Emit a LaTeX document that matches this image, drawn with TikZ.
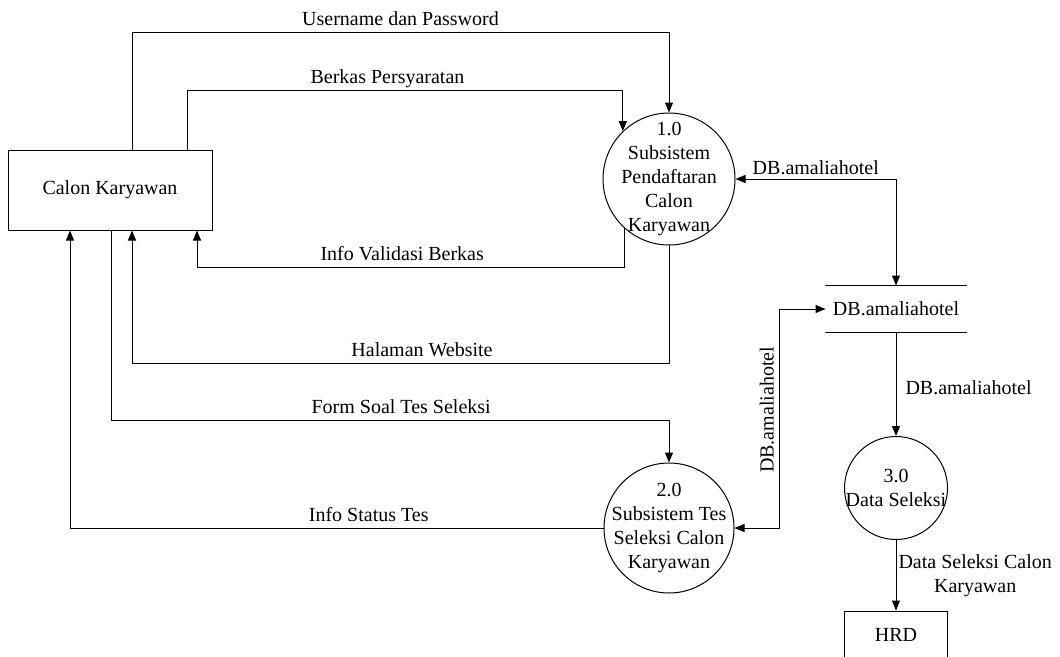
\documentclass[tikz,border=0pt]{standalone}
\usepackage{fontspec}
\setmainfont{Liberation Serif}
\newfontfamily\dfdfont{Liberation Serif}
\usetikzlibrary{arrows.meta}
\begin{document}
\begin{tikzpicture}[>={Triangle[length=10pt,width=8pt]},line join=round,line cap=round,x=1pt,y=-1pt,line width=1pt,
	font=\dfdfont\fontsize{20}{24}\selectfont,
	ent/.style={draw,inner sep=0pt},
	proc/.style={draw,circle,inner sep=0pt},
	ptxt/.style={align=center,inner sep=0pt},
	lbl/.style={inner sep=0pt,anchor=base,yshift=7pt}]
	\useasboundingbox (0,0) rectangle (1060,656);
	\node[ent,minimum width=204pt,minimum height=80pt] (ck) at (110,190) {Calon Karyawan};
	\node[proc,minimum size=132pt] (p1) at (669,179) {};
	\node[ptxt] (p1t) at (p1) {1.0\\Subsistem\\Pendaftaran\\Calon\\Karyawan};
	\node[proc,minimum size=130pt] (p2) at (669,528) {};
	\node[ptxt] (p2t) at (p2) {2.0\\Subsistem Tes\\Seleksi Calon\\Karyawan};
	\node[proc,minimum size=103pt] (p3) at (896,488) {};
	\node[ptxt] (p3t) at (p3) {3.0\\Data Seleksi};
	\node[minimum width=140pt,minimum height=46pt,inner sep=0pt] (ds) at (896,309) {DB.amaliahotel};
	\draw (ds.north west) -- (ds.north east) (ds.south west) -- (ds.south east);
	\node[ent,minimum width=103pt,minimum height=48pt] (hrd) at (896,635) {HRD};
	\draw[->] ([xshift=22pt]ck.north) -- ++(0,-117) -| node[lbl,pos=.25]{Username dan Password} (p1.north);
	\draw[->] ([xshift=77pt]ck.north) -- ++(0,-59) -| node[lbl,pos=.23]{Berkas Persyaratan} (p1.134);
	\draw[->] (p1.228) -- ++(0,39) -| node[lbl,pos=.26]{Info Validasi Berkas} ([xshift=87pt]ck.south);
	\draw[->] (p1.south) -- ++(0,118) -| node[lbl,pos=.23]{Halaman Website} ([xshift=22pt]ck.south);
	\draw[->] ([xshift=1pt]ck.south) -- ++(0,190) -| node[lbl,pos=.26]{Form Soal Tes Seleksi} (p2.north);
	\draw[->] (p2.west) -| node[lbl,pos=.22]{Info Status Tes} ([xshift=-40pt]ck.south);
	\draw[<->] (p1.east) -| node[lbl,pos=.25,yshift=-2pt]{DB.amaliahotel} (ds.north);
	\draw[<->] (p2.east) -- ++(45,0) |- node[pos=.27,rotate=90,anchor=south,inner sep=5pt]{DB.amaliahotel} (ds.west);
	\draw[->] (ds.south) -- node[pos=.53,anchor=west,xshift=9pt,inner sep=0pt]{DB.amaliahotel} (p3.north);
	\draw[->] (p3.south) -- node[pos=.5,anchor=west,xshift=2pt,inner sep=0pt,align=center]{Data Seleksi Calon\\Karyawan} (hrd.north);
\end{tikzpicture}
\end{document}
